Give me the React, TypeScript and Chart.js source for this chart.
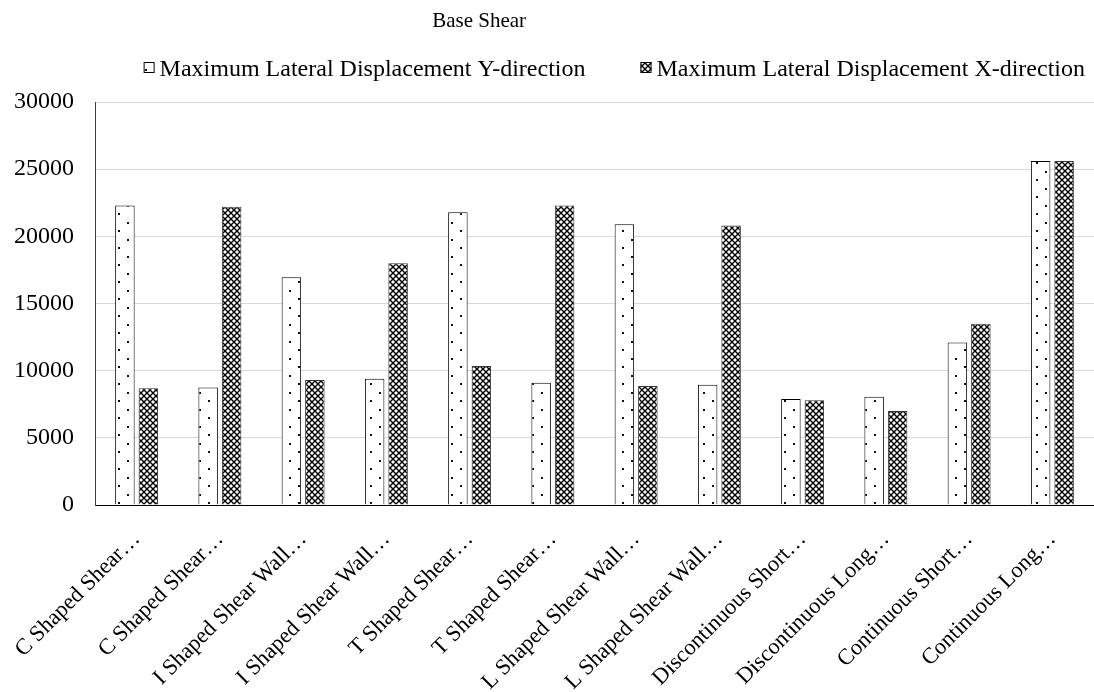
import React, { useEffect, useRef } from "react";
import { Chart, registerables } from "chart.js";

Chart.register(...registerables);

const chartTitle = "Base Shear";
const categories = [
  "C Shaped Shear…",
  "C Shaped Shear…",
  "I Shaped Shear Wall…",
  "I Shaped Shear Wall…",
  "T Shaped Shear…",
  "T Shaped Shear…",
  "L Shaped Shear Wall…",
  "L Shaped Shear Wall…",
  "Discontinuous Short…",
  "Discontinuous Long…",
  "Continuous Short…",
  "Continuous Long…",
];
const seriesNames = [
  "Maximum Lateral Displacement Y-direction",
  "Maximum Lateral Displacement X-direction",
];
const yDirection = [22300, 8750, 16950, 9400, 21800, 9100, 20900, 8950, 7900, 8050, 12100, 25600];
const xDirection = [8700, 22200, 9300, 18000, 10350, 22300, 8850, 20800, 7800, 7000, 13500, 25600];
const yMin = 0;
const yMax = 30000;
const yStep = 5000;

const FONT = "'Liberation Serif', 'Times New Roman', serif";

function makeDotPattern(ctx: CanvasRenderingContext2D): CanvasPattern {
  const c = document.createElement("canvas");
  c.width = 18;
  c.height = 17;
  const g = c.getContext("2d")!;
  g.fillStyle = "#ffffff";
  g.fillRect(0, 0, 18, 17);
  g.fillStyle = "#111111";
  g.fillRect(1, 1, 2, 2);
  g.fillRect(10, 9, 2, 2);
  return ctx.createPattern(c, "repeat")!;
}

function makeHatchPattern(ctx: CanvasRenderingContext2D): CanvasPattern {
  const s = 6;
  const c = document.createElement("canvas");
  c.width = s;
  c.height = s;
  const g = c.getContext("2d")!;
  g.fillStyle = "#ffffff";
  g.fillRect(0, 0, s, s);
  g.strokeStyle = "#000000";
  g.lineWidth = 1.4;
  g.beginPath();
  g.moveTo(-1, -1);
  g.lineTo(s + 1, s + 1);
  g.moveTo(s + 1, -1);
  g.lineTo(-1, s + 1);
  g.stroke();
  return ctx.createPattern(c, "repeat")!;
}

const headerPlugin = {
  id: "header",
  afterDraw(chart: any) {
    const ctx: CanvasRenderingContext2D = chart.ctx;
    ctx.save();
    ctx.fillStyle = "#000";
    ctx.textBaseline = "alphabetic";
    ctx.textAlign = "left";
    ctx.font = `21px ${FONT}`;
    ctx.fillText(chartTitle, chart.width * 0.395, 27);

    ctx.font = `24px ${FONT}`;
    const box = 11;
    const gap = 5;
    const itemGap = 55;
    const ds = chart.data.datasets;
    const widths = ds.map((d: any) => box + gap + ctx.measureText(d.label).width);
    const total = widths.reduce((a: number, b: number) => a + b, 0) + itemGap * (ds.length - 1);
    let x = chart.width - 9 - total;
    const baseY = 76;
    ds.forEach((d: any, i: number) => {
      ctx.fillStyle = d.backgroundColor;
      ctx.fillRect(x, 62, box, box);
      ctx.strokeStyle = "#000";
      ctx.lineWidth = 1;
      ctx.strokeRect(x + 0.5, 62.5, box - 1, box - 1);
      ctx.fillStyle = "#000";
      ctx.fillText(d.label, x + box + gap, baseY);
      x += widths[i] + itemGap;
    });
    ctx.restore();
  },
};

export default function App() {
  const canvasRef = useRef<HTMLCanvasElement | null>(null);

  useEffect(() => {
    const canvas = canvasRef.current;
    if (!canvas) return;
    const ctx = canvas.getContext("2d")!;
    const dots = makeDotPattern(ctx);
    const hatch = makeHatchPattern(ctx);

    const chart = new Chart(ctx, {
      type: "bar",
      data: {
        labels: categories,
        datasets: [
          {
            label: seriesNames[0],
            data: yDirection,
            backgroundColor: dots as any,
            borderColor: "#000",
            borderWidth: 1,
            categoryPercentage: 0.564,
            barPercentage: 0.83,
          },
          {
            label: seriesNames[1],
            data: xDirection,
            backgroundColor: hatch as any,
            borderColor: "#333",
            borderWidth: 1,
            categoryPercentage: 0.564,
            barPercentage: 0.83,
          },
        ],
      },
      options: {
        animation: false,
        responsive: true,
        maintainAspectRatio: false,
        layout: { padding: { top: 102, left: 0, right: 0, bottom: 0 } },
        plugins: {
          legend: { display: false },
          title: { display: false },
          tooltip: { enabled: false },
        },
        scales: {
          x: {
            afterFit: (scale: any) => {
              scale.height = 187;
              scale.paddingLeft = 0;
              scale.paddingRight = 0;
            },
            grid: { display: false, drawTicks: false },
            border: { display: true, color: "#000", width: 1 },
            ticks: {
              autoSkip: false,
              maxRotation: 45,
              minRotation: 45,
              padding: 21,
              labelOffset: 0,
              color: "#000",
              font: { family: FONT, size: 22.5 },
            },
          },
          y: {
            min: yMin,
            max: yMax,
            afterFit: (scale: any) => {
              scale.width = 95;
            },
            grid: { color: "#d9d9d9", lineWidth: 1, drawTicks: false },
            border: { display: true, color: "#404040", width: 1 },
            ticks: {
              stepSize: yStep,
              padding: 21,
              color: "#000",
              font: { family: FONT, size: 24 },
              callback: (v: any) => String(v),
            },
          },
        },
      },
      plugins: [headerPlugin],
    });

    return () => {
      chart.destroy();
    };
  }, []);

  return (
    <div style={{ position: "fixed", left: 0, top: 0, width: 1094, height: 692, background: "#fff" }}>
      <canvas ref={canvasRef} />
    </div>
  );
}
